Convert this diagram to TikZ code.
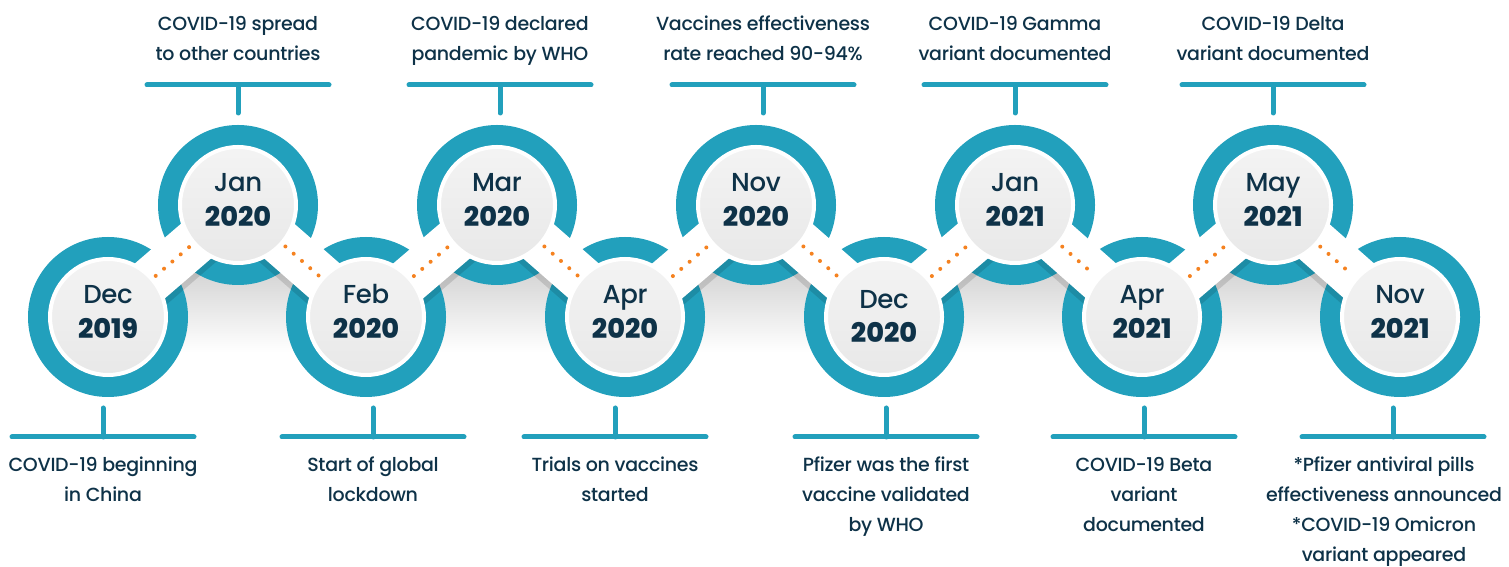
\documentclass[tikz,border=0pt]{standalone}
\usepackage{fontspec}
\setmainfont{Poppins}
\newfontfamily\notefont{Poppins Medium}[LetterSpace=-1.5]
\newfontfamily\yearfont{Poppins ExtraBold}
\usetikzlibrary{positioning}
\definecolor{ringteal}{RGB}{34,160,188}
\definecolor{inknavy}{RGB}{14,50,72}
\definecolor{dotorange}{RGB}{245,130,32}
\tikzset{
  ring/.style={circle,fill=ringteal,minimum size=160pt,inner sep=0pt},
  face/.style={circle,draw=white,line width=4pt,minimum size=116pt,inner sep=0pt,
    top color=gray!9,middle color=white,bottom color=gray!18},
  month/.style={anchor=base,text=inknavy,font=\notefont\fontsize{26}{26}\selectfont},
  year/.style={anchor=base,text=inknavy,font=\yearfont\fontsize{27}{27}\selectfont},
  band/.style={white,line width=46pt},
  bandshade/.style={black,opacity=0.12,line width=50pt},
  fade/.style={top color=gray!35,bottom color=white,draw=none},
  trail/.style={dotorange,line width=4pt,line cap=round,dash pattern=on 0pt off 11pt,shorten <=3pt,shorten >=3pt},
  tick/.style={ringteal,line width=5pt,line cap=round},
  note/.style={anchor=north,inner sep=0pt,text=inknavy,align=center,font=\notefont\fontsize{19}{30}\selectfont}
}
\begin{document}
\begin{tikzpicture}[x=1pt,y=1pt]
  \useasboundingbox[fill=white] (0,0) rectangle (1509,567);
  %% Shade under the upper circles
  \shade[fade] (163,215) rectangle (313,300);
  \shade[fade] (422,215) rectangle (572,300);
  \shade[fade] (681,215) rectangle (831,300);
  \shade[fade] (940,215) rectangle (1090,300);
  \shade[fade] (1198,215) rectangle (1348,300);
  %% Rings
  \node[ring] (r1) at (108,250) {};
  \node[ring] (r2) at (238,362) {};
  \node[ring] (r3) at (366,250) {};
  \node[ring] (r4) at (497,362) {};
  \node[ring] (r5) at (625,250) {};
  \node[ring] (r6) at (756,362) {};
  \node[ring] (r7) at (884,250) {};
  \node[ring] (r8) at (1015,362) {};
  \node[ring] (r9) at (1142,250) {};
  \node[ring] (r10) at (1273,362) {};
  \node[ring] (r11) at (1400,250) {};
  %% White band through the rings
  \draw[bandshade,transform canvas={yshift=-5pt}] (r1.center) -- (r2.center) -- (r3.center) -- (r4.center)
    -- (r5.center) -- (r6.center) -- (r7.center) -- (r8.center) -- (r9.center) -- (r10.center) -- (r11.center);
  \draw[band,line join=round] (r1.center) -- (r2.center) -- (r3.center) -- (r4.center)
    -- (r5.center) -- (r6.center) -- (r7.center) -- (r8.center) -- (r9.center) -- (r10.center) -- (r11.center);
  %% Faces
  \node[face] (d1) at (r1) {};
  \node[face] (d2) at (r2) {};
  \node[face] (d3) at (r3) {};
  \node[face] (d4) at (r4) {};
  \node[face] (d5) at (r5) {};
  \node[face] (d6) at (r6) {};
  \node[face] (d7) at (r7) {};
  \node[face] (d8) at (r8) {};
  \node[face] (d9) at (r9) {};
  \node[face] (d10) at (r10) {};
  \node[face] (d11) at (r11) {};
  %% Dates
  \node[month] (m1) at ([yshift=13pt]d1.center) {Dec};
  \node[year] (y1) at ([yshift=-22pt]d1.center) {2019};
  \node[month] (m2) at ([yshift=13pt]d2.center) {Jan};
  \node[year] (y2) at ([yshift=-22pt]d2.center) {2020};
  \node[month] (m3) at ([yshift=13pt]d3.center) {Feb};
  \node[year] (y3) at ([yshift=-22pt]d3.center) {2020};
  \node[month] (m4) at ([yshift=13pt]d4.center) {Mar};
  \node[year] (y4) at ([yshift=-22pt]d4.center) {2020};
  \node[month] (m5) at ([yshift=13pt]d5.center) {Apr};
  \node[year] (y5) at ([yshift=-22pt]d5.center) {2020};
  \node[month] (m6) at ([yshift=13pt]d6.center) {Nov};
  \node[year] (y6) at ([yshift=-22pt]d6.center) {2020};
  \node[month] (m7) at ([yshift=8pt]d7.center) {Dec};
  \node[year] (y7) at ([yshift=-26pt]d7.center) {2020};
  \node[month] (m8) at ([yshift=13pt]d8.center) {Jan};
  \node[year] (y8) at ([yshift=-22pt]d8.center) {2021};
  \node[month] (m9) at ([yshift=13pt]d9.center) {Apr};
  \node[year] (y9) at ([yshift=-22pt]d9.center) {2021};
  \node[month] (m10) at ([yshift=13pt]d10.center) {May};
  \node[year] (y10) at ([yshift=-22pt]d10.center) {2021};
  \node[month] (m11) at ([yshift=13pt]d11.center) {Nov};
  \node[year] (y11) at ([yshift=-22pt]d11.center) {2021};
  %% Dotted trail
  \draw[trail] (d1) -- (d2);
  \draw[trail] (d2) -- (d3);
  \draw[trail] (d3) -- (d4);
  \draw[trail] (d4) -- (d5);
  \draw[trail] (d5) -- (d6);
  \draw[trail] (d6) -- (d7);
  \draw[trail] (d7) -- (d8);
  \draw[trail] (d8) -- (d9);
  \draw[trail] (d9) -- (d10);
  \draw[trail] (d10) -- (d11);
  %% Notes above
  \coordinate (t2) at (238,482);
  \coordinate (t4) at (500,482);
  \coordinate (t6) at (763,482);
  \coordinate (t8) at (1015,482);
  \coordinate (t10) at (1273,482);
  \draw[tick] (t2) -- ++(0,-28);
  \draw[tick] ([xshift=-91pt]t2) -- ([xshift=91pt]t2);
  \node[note] (n2) at ([yshift=69pt]t2) {COVID-19 spread\\to other countries};
  \draw[tick] (t4) -- ++(0,-28);
  \draw[tick] ([xshift=-91pt]t4) -- ([xshift=91pt]t4);
  \node[note] (n4) at ([yshift=69pt]t4) {COVID-19 declared\\pandemic by WHO};
  \draw[tick] (t6) -- ++(0,-28);
  \draw[tick] ([xshift=-91pt]t6) -- ([xshift=91pt]t6);
  \node[note] (n6) at ([yshift=69pt]t6) {Vaccines effectiveness\\rate reached 90-94\%};
  \draw[tick] (t8) -- ++(0,-28);
  \draw[tick] ([xshift=-91pt]t8) -- ([xshift=91pt]t8);
  \node[note] (n8) at ([yshift=69pt]t8) {COVID-19 Gamma\\variant documented};
  \draw[tick] (t10) -- ++(0,-28);
  \draw[tick] ([xshift=-91pt]t10) -- ([xshift=91pt]t10);
  \node[note] (n10) at ([yshift=69pt]t10) {COVID-19 Delta\\variant documented};
  %% Notes below
  \coordinate (b1) at (103,130);
  \coordinate (b3) at (373,130);
  \coordinate (b5) at (615,130);
  \coordinate (b7) at (886,130);
  \coordinate (b9) at (1144,130);
  \coordinate (b11) at (1393,130);
  \draw[tick] (b1) -- ++(0,29);
  \draw[tick] ([xshift=-91pt]b1) -- ([xshift=91pt]b1);
  \node[note] (n1) at ([yshift=-20pt]b1) {COVID-19 beginning\\in China};
  \draw[tick] (b3) -- ++(0,29);
  \draw[tick] ([xshift=-91pt]b3) -- ([xshift=91pt]b3);
  \node[note] (n3) at ([yshift=-20pt]b3) {Start of global\\lockdown};
  \draw[tick] (b5) -- ++(0,29);
  \draw[tick] ([xshift=-91pt]b5) -- ([xshift=91pt]b5);
  \node[note] (n5) at ([yshift=-20pt]b5) {Trials on vaccines\\started};
  \draw[tick] (b7) -- ++(0,29);
  \draw[tick] ([xshift=-91pt]b7) -- ([xshift=91pt]b7);
  \node[note] (n7) at ([yshift=-20pt]b7) {Pfizer was the first\\vaccine validated\\by WHO};
  \draw[tick] (b9) -- ++(0,29);
  \draw[tick] ([xshift=-91pt]b9) -- ([xshift=91pt]b9);
  \node[note] (n9) at ([yshift=-20pt]b9) {COVID-19 Beta\\variant\\documented};
  \draw[tick] (b11) -- ++(0,29);
  \draw[tick] ([xshift=-91pt]b11) -- ([xshift=91pt]b11);
  \node[note] (n11) at ([xshift=-9pt,yshift=-20pt]b11) {*Pfizer antiviral pills\\effectiveness announced\\*COVID-19 Omicron\\variant appeared};
\end{tikzpicture}
\end{document}
